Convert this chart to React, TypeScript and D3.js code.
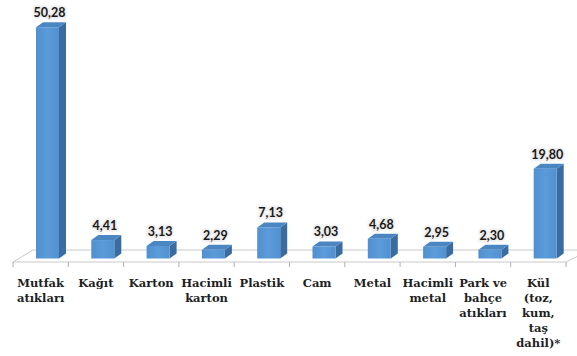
import React from "react";
import * as d3 from "d3";

const categories: string[][] = [
  ["Mutfak", "atıkları"],
  ["Kağıt"],
  ["Karton"],
  ["Hacimli", "karton"],
  ["Plastik"],
  ["Cam"],
  ["Metal"],
  ["Hacimli", "metal"],
  ["Park ve", "bahçe", "atıkları"],
  ["Kül", "(toz,", "kum,", "taş", "dahil)*"],
];
const values: number[] = [50.28, 4.41, 3.13, 2.29, 7.13, 3.03, 4.68, 2.95, 2.3, 19.8];

const W = 577;
const H = 356;

export default function App() {
  const idx = values.map((_, i) => i);
  const x = d3.scaleBand<number>().domain(idx).range([13, 566]).padding(0);
  const y = d3.scaleLinear().domain([0, 55]).range([260.5, 260.5 - 55 * 4.64]);
  const bw = x.bandwidth();
  const fmt = (v: number) => d3.format(".2f")(v).replace(".", ",");
  const barOff = 23;
  const barW = 23;
  const dx = 7;
  const dy = 5;
  const base = 258.5;
  const frontY = 262;
  const backY = 250;

  const ticks = d3.range(0, values.length + 1).map((i) => 13 + i * bw);

  return (
    <svg
      width={W}
      height={H}
      style={{ position: "absolute", left: 0, top: 0, background: "#fff" }}
    >
      <defs>
        <linearGradient id="front" x1="0" x2="1" y1="0" y2="0">
          <stop offset="0" stopColor="#5090d0" />
          <stop offset="0.5" stopColor="#5b9bd9" />
          <stop offset="1" stopColor="#5191d0" />
        </linearGradient>
        <filter id="halo" x="-20%" y="-40%" width="140%" height="180%">
          <feGaussianBlur stdDeviation="1.2" />
        </filter>
      </defs>
      {/* floor */}
      <polygon
        points={`13,${frontY} 33,${backY} 590,${backY} 566,${frontY}`}
        fill="#ffffff"
        stroke="#c9c9c9"
        strokeWidth={1}
      />
      {ticks.map((t, i) => (
        <line key={i} x1={t} x2={t} y1={frontY} y2={frontY + 5} stroke="#b0b0b0" strokeWidth={1} />
      ))}
      {/* bars */}
      {values.map((v, i) => {
        const x0 = (x(i) as number) + barOff;
        const x1 = x0 + barW;
        const top = y(v);
        return (
          <g key={i}>
            <polygon
              points={`${x1},${top} ${x1 + dx},${top - dy} ${x1 + dx},${base - dy} ${x1},${base}`}
              fill="#3a6c9f"
            />
            <polygon
              points={`${x0},${top} ${x0 + dx},${top - dy} ${x1 + dx},${top - dy} ${x1},${top}`}
              fill="#4a86c2"
            />
            <rect x={x0} y={top} width={barW} height={base - top} fill="url(#front)" />
          </g>
        );
      })}
      {/* value labels */}
      {values.map((v, i) => {
        const cx = (x(i) as number) + barOff + barW / 2 + 2;
        const by = y(v) - 10;
        return (
          <g key={i} fontFamily="Lato, 'Open Sans', sans-serif" fontWeight="bold" fontSize={12.5} textAnchor="middle">
            <text x={cx} y={by} fill="#e8e8e8" stroke="#e8e8e8" strokeWidth={3} filter="url(#halo)">
              {fmt(v)}
            </text>
            <text x={cx} y={by} fill="#1a1a1a">
              {fmt(v)}
            </text>
          </g>
        );
      })}
      {/* category labels */}
      {categories.map((lines, i) => {
        const cx = (x(i) as number) + bw / 2;
        return (
          <text
            key={i}
            x={cx}
            textAnchor="middle"
            fontFamily="'DejaVu Serif', serif"
            fontWeight="bold"
            fontSize={11.5}
            fill="#1f1f1f"
          >
            {lines.map((l, j) => (
              <tspan key={j} x={cx} y={287 + j * 15}>
                {l}
              </tspan>
            ))}
          </text>
        );
      })}
    </svg>
  );
}
